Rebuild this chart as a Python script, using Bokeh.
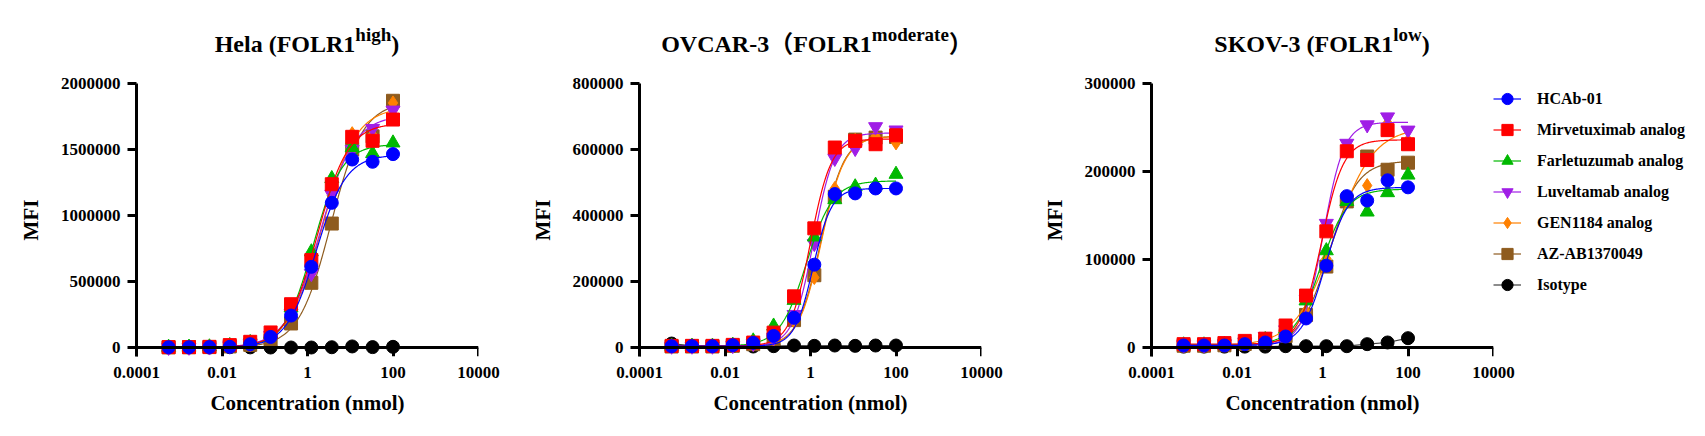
import numpy as np
from bokeh.plotting import figure
from bokeh.models import (Range1d, FixedTicker, CustomJSTickFormatter, BasicTickFormatter,
                          LogAxis, Legend, LegendItem, Div)
from bokeh.layouts import row, column
from bokeh.embed import file_html
from bokeh.resources import INLINE

# ---------------- data ----------------
conc = [0.000564, 0.00169, 0.00508, 0.0152, 0.0457, 0.137, 0.412, 1.23, 3.70, 11.1, 33.3, 100.0]
x_ticks = [0.0001, 0.01, 1, 100, 10000]

series_names = ["HCAb-01", "Mirvetuximab analog", "Farletuzumab analog", "Luveltamab analog",
                "GEN1184 analog", "AZ-AB1370049", "Isotype"]
series_colors = ["#0000FF", "#FF0000", "#00B800", "#A01EE6", "#FF8000", "#8E5B1E", "#000000"]
line_colors = ["#0000FF", "#FF0000", "#00B800", "#A01EE6", "#FF8000", "#8E5B1E", "#404040"]
series_markers = ["circle", "square", "triangle", "inverted_triangle", "diamond", "square", "circle"]
series_sizes = [13, 13, 14, 14, 14, 13, 13]

# Hela (FOLR1 high)
hela_hcab01 = [2000, 2000, 3000, 5000, 25000, 80000, 242000, 611000, 1096000, 1424000, 1407000, 1465000]
hela_mirv = [3000, 3000, 5000, 18000, 43000, 114000, 328000, 662000, 1237000, 1596000, 1566000, 1727000]
hela_farl = [2000, 3000, 5000, 15000, 38000, 100000, 300000, 725000, 1280000, 1515000, 1470000, 1550000]
hela_luve = [1000, 2000, 4000, 12000, 30000, 90000, 260000, 560000, 1160000, 1500000, 1659000, 1798000]
hela_gen = [1000, 2000, 4000, 10000, 30000, 85000, 250000, 560000, 1150000, 1620000, 1610000, 1853000]
hela_az = [1000, 2000, 3000, 8000, 20000, 55000, 182000, 490000, 939000, 1500000, 1600000, 1869000]
hela_iso = [0, 0, 0, 2000, 1000, 0, 0, 0, 2000, 8000, 3000, 5000]
hela_bottom = [1000, 2000, 1000, 0, 0, 0]
hela_top = [1460000, 1700000, 1540000, 1760000, 1820000, 1860000]
hela_ec50 = [1.6, 1.7, 1.35, 2.0, 2.2, 3.5]
hela_hill = [1.25, 1.2, 1.3, 1.1, 1.1, 1.15]

# OVCAR-3 (FOLR1 moderate)
ovcar_hcab01 = [4000, 4000, 4000, 7000, 14000, 35000, 90000, 251000, 465000, 467000, 482000, 482000]
ovcar_mirv = [5000, 5000, 5000, 8000, 15000, 45000, 155000, 361000, 606000, 626000, 616000, 643000]
ovcar_farl = [4000, 4000, 4000, 7000, 20000, 65000, 143000, 335000, 448000, 487000, 492000, 525000]
ovcar_luve = [4000, 4000, 4000, 6000, 12000, 30000, 100000, 315000, 573000, 603000, 669000, 659000]
ovcar_gen = [3000, 3000, 3000, 5000, 10000, 25000, 80000, 212000, 482000, 628000, 640000, 620000]
ovcar_az = [3000, 3000, 3000, 5000, 10000, 25000, 83000, 219000, 457000, 630000, 636000, 638000]
ovcar_iso = [12000, 5000, 4000, 4000, 3000, 4000, 6000, 5000, 6000, 5000, 6000, 6000]
ovcar_bottom = [4000, 5000, 4000, 4000, 3000, 3000]
ovcar_top = [482000, 632000, 505000, 650000, 640000, 640000]
ovcar_ec50 = [1.15, 1.0, 0.8, 1.2, 1.8, 1.75]
ovcar_hill = [2.0, 1.8, 1.4, 1.8, 1.6, 1.6]

# SKOV-3 (FOLR1 low)
skov_hcab01 = [2300, 2300, 2300, 3800, 5700, 12500, 33000, 93000, 172000, 167000, 190000, 182000]
skov_mirv = [3800, 3800, 5000, 7500, 10000, 25000, 59000, 132000, 223000, 213000, 247000, 231000]
skov_farl = [3000, 3000, 3500, 5000, 9000, 21000, 53000, 110000, 166000, 154000, 176000, 196000]
skov_luve = [3000, 3000, 4000, 6000, 12500, 20000, 55000, 141000, 232000, 253000, 262000, 247000]
skov_gen = [2000, 2000, 3000, 4000, 6000, 14000, 41000, 101000, 166000, 184000, 255000, 235000]
skov_az = [2000, 2000, 2500, 4000, 6000, 13000, 37000, 92000, 166000, 217000, 202000, 210000]
skov_iso = [1000, 1000, 1000, 1000, 1000, 1500, 1500, 1500, 1500, 3800, 5700, 10600]
skov_bottom = [2300, 3800, 3000, 3000, 2000, 2000]
skov_top = [182000, 236000, 180000, 256000, 250000, 212000]
skov_ec50 = [1.15, 0.95, 0.9, 1.05, 1.9, 1.4]
skov_hill = [1.6, 1.7, 1.4, 1.8, 0.95, 1.3]

hela_yticks = [0, 500000, 1000000, 1500000, 2000000]
ovcar_yticks = [0, 200000, 400000, 600000, 800000]
skov_yticks = [0, 100000, 200000, 300000]

titles = [("Hela (FOLR1", "high", ")"),
          ("OVCAR-3\uff08FOLR1", "moderate", "\uff09"),
          ("SKOV-3 (FOLR1", "low", ")")]

FONT = "Liberation Serif"
FRAME_W = 342
FRAME_H = 273


def fourpl(x, bottom, top, ec50, hill):
    return bottom + (top - bottom) / (1.0 + (ec50 / x) ** hill)


def style_axis(ax):
    ax.axis_line_width = 3
    ax.axis_line_color = "black"
    ax.major_tick_line_width = 3
    ax.major_tick_line_color = "black"
    ax.major_tick_out = 9
    ax.major_tick_in = 0
    ax.minor_tick_out = 0
    ax.minor_tick_in = 0
    ax.major_label_text_font = FONT
    ax.major_label_text_font_size = "17px"
    ax.major_label_text_font_style = "bold"
    ax.major_label_text_color = "black"
    ax.major_label_standoff = 7
    ax.axis_label_text_font = FONT
    ax.axis_label_text_font_size = "21px"
    ax.axis_label_text_font_style = "bold"
    ax.axis_label_text_color = "black"


def make_panel(title, title_shift, values, bottoms, tops, ec50s, hills, yticks,
               border_left, border_right):
    ymax = yticks[-1]
    ymin = -ymax * 9.0 / 264.0
    p = figure(x_axis_type="log", x_range=Range1d(1e-4, 1e4), y_range=Range1d(ymin, ymax),
               frame_width=FRAME_W, frame_height=FRAME_H,
               min_border_left=border_left, min_border_right=border_right,
               min_border_top=15, min_border_bottom=72,
               output_backend="svg", toolbar_location=None, title=None)
    p.outline_line_color = None
    p.xgrid.visible = False
    p.ygrid.visible = False

    xs = np.logspace(np.log10(conc[0]), np.log10(conc[-1]), 300)
    renderers = {}
    for i in reversed(range(len(series_names))):
        col = series_colors[i]
        if i < 6:
            ys = fourpl(xs, bottoms[i], tops[i], ec50s[i], hills[i])
            lr = p.line(xs, ys, line_color=line_colors[i], line_width=1.2)
        else:
            lr = p.line(conc, values[i], line_color=line_colors[i], line_width=1.2)
        sr = p.scatter(conc, values[i], marker=series_markers[i], size=series_sizes[i],
                       fill_color=col, line_color=col)
        renderers[i] = (lr, sr)

    # bottom axis at frame edge: labels only
    xb = p.xaxis[0]
    xb.ticker = FixedTicker(ticks=x_ticks, minor_ticks=[])
    xb.formatter = CustomJSTickFormatter(code="return tick.toString();")
    style_axis(xb)
    xb.axis_line_color = None
    xb.major_tick_line_color = None
    xb.major_tick_out = 0
    xb.major_label_standoff = 10
    xb.axis_label = "Concentration (nmol)"
    xb.axis_label_standoff = 10

    # axis line + ticks drawn at y = 0
    xz = LogAxis(ticker=FixedTicker(ticks=x_ticks, minor_ticks=[]),
                 formatter=CustomJSTickFormatter(code="return '';"))
    style_axis(xz)
    xz.fixed_location = 0
    xz.major_label_text_font_size = "1px"
    xz.major_label_text_color = None
    xz.major_label_standoff = 0
    p.add_layout(xz, "below")

    ya = p.yaxis[0]
    ya.ticker = FixedTicker(ticks=yticks, minor_ticks=[])
    ya.formatter = BasicTickFormatter(use_scientific=False)
    style_axis(ya)
    ya.axis_label = "MFI"
    ya.axis_label_standoff = 15

    fig_w = border_left + FRAME_W + border_right
    main, sup, close = title
    html = ('<div style="width:%dpx;margin-left:%dpx;text-align:center;white-space:nowrap;'
            'font-family:\'Liberation Serif\',\'Noto Sans CJK SC\',serif;font-weight:bold;'
            'font-size:24px;line-height:24px;padding-top:24px;color:black;">'
            '%s<span style="font-size:19px;position:relative;top:-11px;">%s</span>%s</div>'
            % (FRAME_W, border_left + title_shift, main, sup, close))
    div = Div(text=html, width=fig_w, height=60, margin=0)
    return column(div, p, spacing=0), p, renderers


hela_values = [hela_hcab01, hela_mirv, hela_farl, hela_luve, hela_gen, hela_az, hela_iso]
ovcar_values = [ovcar_hcab01, ovcar_mirv, ovcar_farl, ovcar_luve, ovcar_gen, ovcar_az, ovcar_iso]
skov_values = [skov_hcab01, skov_mirv, skov_farl, skov_luve, skov_gen, skov_az, skov_iso]

c1, p1, _ = make_panel(titles[0], 0, hela_values, hela_bottom, hela_top, hela_ec50, hela_hill,
                       hela_yticks, 128, 42)
c2, p2, _ = make_panel(titles[1], 7, ovcar_values, ovcar_bottom, ovcar_top, ovcar_ec50, ovcar_hill,
                       ovcar_yticks, 119, 49)
c3, p3, rends = make_panel(titles[2], 0, skov_values, skov_bottom, skov_top, skov_ec50, skov_hill,
                           skov_yticks, 121, 4)

items = [LegendItem(label=series_names[i], renderers=[rends[i][0], rends[i][1]])
         for i in range(len(series_names))]
legend = Legend(items=items, location="top_left", padding=0, margin=0, spacing=0,
                glyph_width=28, glyph_height=31, label_height=31, label_standoff=16,
                label_text_font=FONT, label_text_font_size="16px", label_text_font_style="bold",
                label_text_color="black", border_line_color=None, background_fill_alpha=0)
p3.add_layout(legend, "right")

layout = row(c1, c2, c3, spacing=0, margin=(8, 0, 0, 8))

with open("out.html", "w") as f:
    f.write(file_html(layout, INLINE, title="FOLR1 binding"))
